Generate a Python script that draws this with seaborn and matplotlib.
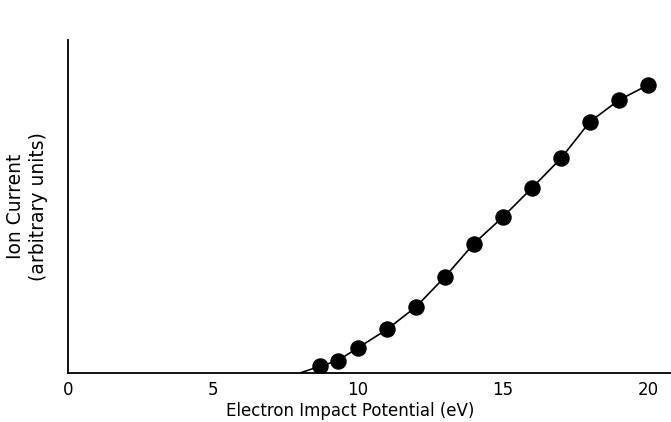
import matplotlib
matplotlib.use("Agg")
import matplotlib.pyplot as plt
import seaborn as sns
import pandas as pd

# values (y in arbitrary units)
energy_ev = [8.7, 9.3, 10, 11, 12, 13, 14, 15, 16, 17, 18, 19, 20]
ion_current = [0.21, 0.37, 0.76, 1.31, 1.99, 2.89, 3.89, 4.69, 5.56, 6.45, 7.55, 8.20, 8.65]
onset_ev = 8.0
x_ticks = [0, 5, 10, 15, 20]

sns.set_style("white")
plt.rcParams["font.family"] = ["DejaVu Sans"]
plt.rcParams["text.color"] = "black"
plt.rcParams["axes.labelcolor"] = "black"

df = pd.DataFrame({"E": energy_ev, "I": ion_current})
curve = pd.DataFrame({"E": [onset_ev] + energy_ev, "I": [0.0] + ion_current})

fig = plt.figure(figsize=(6.71, 4.22), dpi=100)
ax = fig.add_axes([0.1013, 0.116, 0.899, 0.789])

sns.lineplot(data=curve, x="E", y="I", ax=ax, color="black", linewidth=1.2)
sns.scatterplot(data=df, x="E", y="I", ax=ax, color="black", s=120, edgecolor="black", zorder=3)

ax.set_xlim(0, 20.8)
ax.set_ylim(0, 10)
ax.set_xticks(x_ticks)
ax.set_yticks([])
ax.tick_params(axis="x", direction="in", length=4, width=1, labelsize=12, pad=6, colors="black")

for side in ["top", "right"]:
    ax.spines[side].set_visible(False)
for side in ["left", "bottom"]:
    ax.spines[side].set_color("black")
    ax.spines[side].set_linewidth(1.3)

ax.set_xlabel("Electron Impact Potential (eV)", fontsize=12)
ax.xaxis.set_label_coords(0.468, -0.088)
ax.set_ylabel("Ion Current\n(arbitrary units)", fontsize=13.5, linespacing=1.25)
ax.yaxis.set_label_coords(-0.033, 0.5)

fig.savefig("out.png", dpi=100)
